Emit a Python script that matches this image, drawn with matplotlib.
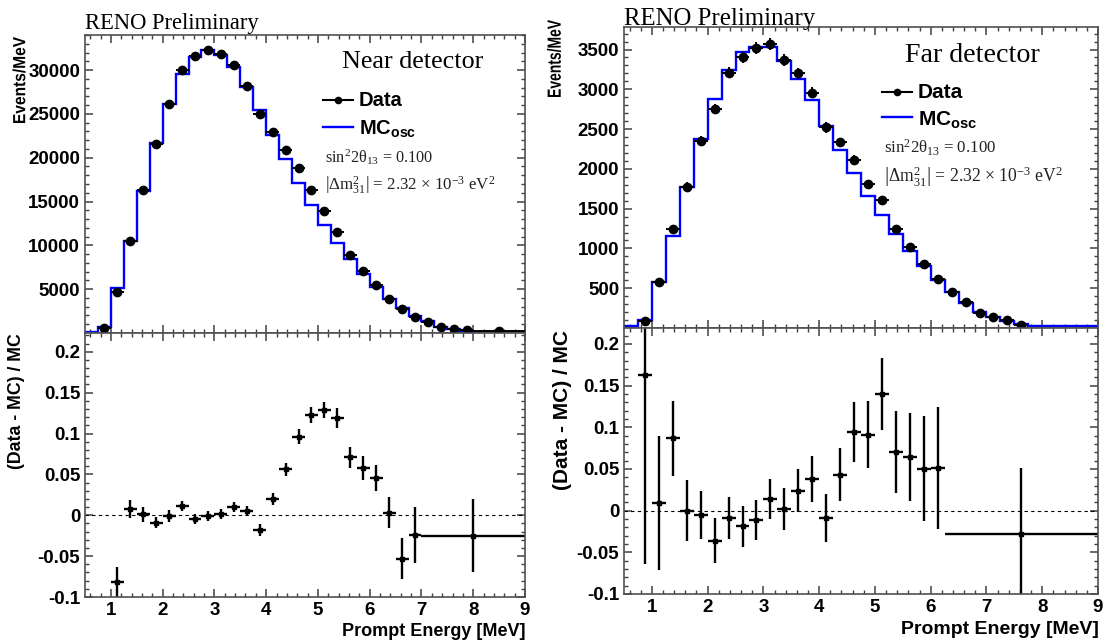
import numpy as np
import matplotlib
matplotlib.use('Agg')
import matplotlib.pyplot as plt
from matplotlib.lines import Line2D
from matplotlib.patches import PathPatch
from matplotlib.textpath import TextPath
from matplotlib.font_manager import FontProperties
from matplotlib.transforms import Affine2D
from matplotlib.ticker import MultipleLocator

plt.rcParams['font.family'] = ['Liberation Sans', 'DejaVu Sans']
plt.rcParams['mathtext.fontset'] = 'custom'
plt.rcParams['mathtext.rm'] = 'Liberation Serif'
plt.rcParams['mathtext.it'] = 'Liberation Serif:italic'
plt.rcParams['mathtext.bf'] = 'Liberation Sans:bold'

# energy binning (MeV)
mc_edges = np.append(np.arange(0.5, 8.01, 0.25), 9.0)

# near detector
near_mc = [150, 700, 5080, 10540, 16220, 21680, 26150, 29560, 31520, 32290, 31750,
           30310, 28120, 25390, 22550, 19820, 17130, 14600, 12330, 10250, 8430,
           6730, 5250, 3880, 2800, 1910, 1340, 700, 400, 200, 100]
near_x = list(np.arange(0.875, 7.9, 0.25)) + [8.5]
near_xerr = [0.125] * 29 + [0.5]
near_data = [600, 4680, 10540, 16300, 21600, 26180, 29970, 31560, 32310, 31860,
             30530, 28220, 25040, 22960, 20880, 18790, 16330, 13950, 11560, 8950,
             7130, 5430, 3910, 2700, 1830, 1260, 700, 430, 310, 200]
near_derr = [40, 110, 160, 200, 230, 250, 270, 280, 280, 280, 270, 260, 250, 240,
             230, 220, 200, 190, 170, 150, 130, 120, 100, 80, 70, 60, 45, 35, 30, 20]

near_rx = list(np.arange(1.125, 6.9, 0.25)) + [8.0]
near_rxerr = [0.125] * 24 + [1.0]
near_ratio = [-0.082, 0.008, 0.001, -0.009, -0.001, 0.011, -0.005, -0.001, 0.002,
              0.010, 0.005, -0.018, 0.020, 0.056, 0.096, 0.123, 0.129, 0.119, 0.071,
              0.058, 0.046, 0.003, -0.053, -0.024, -0.025]
near_rerr = [0.019, 0.011, 0.009, 0.007, 0.007, 0.006, 0.006, 0.006, 0.006, 0.006,
             0.006, 0.007, 0.007, 0.008, 0.009, 0.010, 0.010, 0.012, 0.013, 0.015,
             0.016, 0.019, 0.025, 0.034, 0.045]

# far detector
far_mc = [20, 95, 575, 1150, 1775, 2375, 2875, 3240, 3470, 3530, 3530, 3360, 3130,
          2870, 2545, 2241, 1950, 1658, 1416, 1179, 963, 775, 608, 450, 316, 200,
          138, 83, 45, 25, 20]
far_x = list(np.arange(0.875, 7.7, 0.25))
far_xerr = [0.125] * 28
far_data = [90, 575, 1250, 1775, 2354, 2750, 3208, 3400, 3520, 3566, 3366, 3200,
            2958, 2520, 2333, 2108, 1804, 1604, 1250, 1012, 804, 616, 458, 325,
            191, 137, 95, 41]
far_derr = [20, 35, 45, 55, 60, 65, 70, 75, 75, 75, 75, 70, 70, 65, 60, 60, 55, 50,
            45, 40, 35, 30, 27, 22, 18, 15, 12, 10]

far_rx = list(np.arange(0.875, 6.2, 0.25)) + [7.625]
far_rxerr = [0.125] * 22 + [1.375]
far_ratio = [0.163, 0.009, 0.087, 0.000, -0.005, -0.036, -0.009, -0.019, -0.011,
             0.014, 0.002, 0.024, 0.038, -0.009, 0.043, 0.094, 0.091, 0.140, 0.070,
             0.064, 0.050, 0.051, -0.028]
far_rerr = [0.227, 0.080, 0.045, 0.037, 0.029, 0.027, 0.025, 0.025, 0.024, 0.024,
            0.025, 0.026, 0.028, 0.029, 0.032, 0.036, 0.040, 0.043, 0.049, 0.053,
            0.063, 0.073, 0.079]

W, H = 1109, 644
fig = plt.figure(figsize=(W / 100, H / 100), dpi=100)


def box(left, top, right, bottom):
    return [left / W, 1 - bottom / H, (right - left) / W, (bottom - top) / H]


def fpos(x, y):
    return x / W, 1 - y / H


def style(ax, tick_size):
    for s in ax.spines.values():
        s.set_color('#505050')
        s.set_linewidth(1.2)
    ax.tick_params(which='both', direction='in', top=True, right=True,
                   color='#404040', labelsize=tick_size)
    ax.tick_params(which='major', length=6, width=1.1)
    ax.tick_params(which='minor', length=3, width=1.0)
    ax.xaxis.set_major_locator(MultipleLocator(1))
    ax.xaxis.set_minor_locator(MultipleLocator(0.2))
    for lab in ax.get_xticklabels() + ax.get_yticklabels():
        lab.set_fontweight('bold')


def draw(ax_top, ax_bot, mc, xs, xerr, data, derr, rx, rxerr, ratio, rerr,
         ymax, ymajor, yminor, rtop, tick_size):
    ax_top.stairs(mc, mc_edges, color='#0000ff', lw=1.7, baseline=None, zorder=2)
    ax_top.errorbar(xs, data, xerr=xerr, yerr=derr, fmt='o', color='black',
                    ms=6, elinewidth=1.4, capsize=0, zorder=3)
    ax_top.set_xlim(0.5, 9)
    ax_top.set_ylim(0, ymax)
    ax_top.set_yticks(np.arange(ymajor, ymax, ymajor))
    ax_top.yaxis.set_minor_locator(MultipleLocator(yminor))
    ax_top.tick_params(labelbottom=False)
    style(ax_top, tick_size)

    ax_bot.axhline(0, color='black', lw=0.8, ls=(0, (3, 3)))
    ax_bot.errorbar(rx, ratio, xerr=rxerr, yerr=rerr, fmt='s', color='black',
                    ms=3, elinewidth=1.7, capsize=0)
    ax_bot.set_xlim(0.5, 9)
    ax_bot.set_ylim(-0.1, rtop)
    ax_bot.set_yticks([-0.1, -0.05, 0, 0.05, 0.1, 0.15, 0.2])
    ax_bot.set_yticklabels(['-0.1', '-0.05', '0', '0.05', '0.1', '0.15', '0.2'])
    ax_bot.yaxis.set_minor_locator(MultipleLocator(0.01))
    style(ax_bot, tick_size)


near_top = fig.add_axes(box(85, 35, 525, 333))
near_bot = fig.add_axes(box(85, 333, 525, 597))
far_top = fig.add_axes(box(624, 27, 1098, 328))
far_bot = fig.add_axes(box(624, 328, 1098, 594))

draw(near_top, near_bot, near_mc, near_x, near_xerr, near_data, near_derr,
     near_rx, near_rxerr, near_ratio, near_rerr, 34000, 5000, 1000, 0.223, 13.5)
draw(far_top, far_bot, far_mc, far_x, far_xerr, far_data, far_derr,
     far_rx, far_rxerr, far_ratio, far_rerr, 3783, 500, 100, 0.219, 13.5)

serif = ['Liberation Serif', 'DejaVu Serif']


def condensed_vlabel(s, cx, top, size, length):
    # vertical bold label squeezed along its length, sizes in output pixels
    path = TextPath((0, 0), s, size=size,
                    prop=FontProperties(family='Liberation Sans', weight='bold'))
    ext = path.get_extents()
    sx = length / ext.width
    tr = (Affine2D().translate(-ext.x0, -(ext.y0 + ext.y1) / 2)
          .scale(sx, 1).rotate_deg(90).translate(cx, H - top - length))
    fig.add_artist(PathPatch(path, transform=tr, facecolor='black',
                             edgecolor='none', lw=0))


# axis titles
condensed_vlabel('Events/MeV', 19, 37, 17.5, 86)
condensed_vlabel('Events/MeV', 554, 20, 19, 77)
fig.text(*fpos(17, 333), '(Data - MC) / MC', rotation=90, ha='center', va='top',
         fontsize=12.8, fontweight='bold')
fig.text(*fpos(562, 330), '(Data - MC) / MC', rotation=90, ha='center', va='top',
         fontsize=15, fontweight='bold')
fig.text(*fpos(525, 631), 'Prompt Energy [MeV]', ha='right', va='center',
         fontsize=13, fontweight='bold')
fig.text(*fpos(1099, 630), 'Prompt Energy [MeV]', ha='right', va='center',
         fontsize=14, fontweight='bold')

fig.text(*fpos(85, 29.5), 'RENO Preliminary', family=serif, fontsize=16.3,
         va='baseline')
fig.text(*fpos(624, 25), 'RENO Preliminary', family=serif, fontsize=17.9,
         va='baseline')


def legend(title, tx, ty, tsize, lx, ly_data, ly_mc, sy1, sy2, lsize, psize):
    fig.text(*fpos(tx, ty), title, family=serif, fontsize=tsize, va='baseline')
    x0, y0 = fpos(lx, ly_data)
    x1, _ = fpos(lx + 30, ly_data)
    fig.add_artist(Line2D([x0, x1], [y0, y0], color='black', lw=1.5))
    fig.add_artist(Line2D([(x0 + x1) / 2], [y0], marker='o', ms=4.5, color='black'))
    fig.text(x1 + 6 / W, y0, 'Data', fontsize=lsize, fontweight='bold', va='center')
    _, y2 = fpos(lx, ly_mc)
    fig.add_artist(Line2D([x0, x1], [y2, y2], color='#0000ff', lw=1.7))
    fig.text(x1 + 6 / W, y2 - 2 / H, r'MC$_{\mathbf{osc}}$', fontsize=lsize,
             fontweight='bold', va='center')
    fig.text(*fpos(lx + 2, sy1), r'sin$^{2}$2$\mathrm{\theta}_{13}$ = 0.100',
             family=serif, fontsize=psize, va='center', color='#222222')
    fig.text(*fpos(lx + 2, sy2),
             r'$\left|\Delta\mathrm{m}^{2}_{31}\right|$ = 2.32 $\times$ 10$^{-3}$ eV$^{2}$',
             family=serif, fontsize=psize * 1.04, va='center', color='#222222')


legend('Near detector', 342, 68, 18.8, 323, 100, 127, 157, 186, 14.5, 11.7)
legend('Far detector', 905, 62, 20.2, 882, 92, 117, 148, 177, 15, 12.2)

fig.savefig('out.png', dpi=100)
